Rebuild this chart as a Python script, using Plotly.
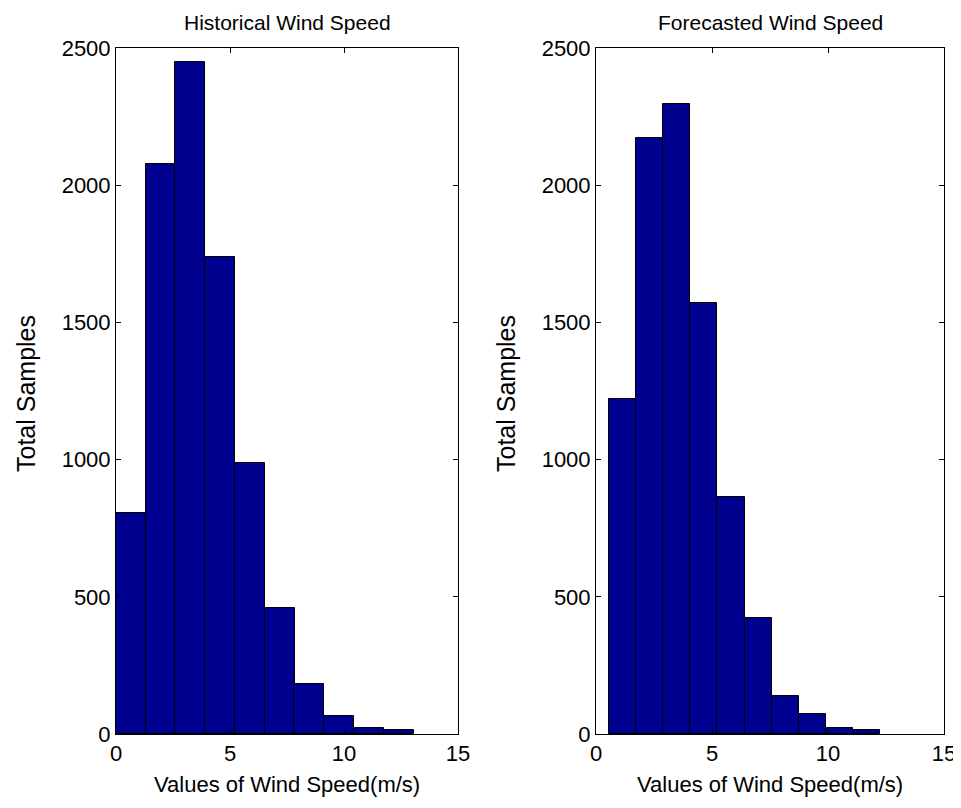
import plotly.graph_objects as go

# ---- data ----
hist_centers = [0.65, 1.96, 3.26, 4.57, 5.87, 7.18, 8.48, 9.79, 11.09, 12.40]
hist_counts = [805, 2077, 2450, 1740, 988, 460, 183, 67, 22, 14]
hist_bin_width = 1.305

fore_centers = [1.14, 2.31, 3.48, 4.65, 5.82, 6.99, 8.15, 9.32, 10.49, 11.66]
fore_counts = [1220, 2172, 2297, 1570, 862, 424, 140, 73, 22, 14]
fore_bin_width = 1.168

x_ticks = [0, 5, 10, 15]
y_ticks = [0, 500, 1000, 1500, 2000, 2500]
titles = ["Historical Wind Speed", "Forecasted Wind Speed"]
x_title = "Values of Wind Speed(m/s)"
y_title = "Total Samples"

# the page places the figure 8px in from the top-left corner
OFF = 8
W, H = 961 - OFF, 808 - OFF
FONT = "Liberation Sans, Arial, Helvetica"
BAR = "rgb(0,0,143)"
TXT = 22

fig = go.Figure()
fig.add_trace(go.Bar(x=hist_centers, y=hist_counts, width=hist_bin_width,
                     marker=dict(color=BAR, line=dict(color="black", width=1)),
                     xaxis="x", yaxis="y", showlegend=False))
fig.add_trace(go.Bar(x=fore_centers, y=fore_counts, width=fore_bin_width,
                     marker=dict(color=BAR, line=dict(color="black", width=1)),
                     xaxis="x2", yaxis="y2", showlegend=False))

# pixel layout (page pixels, converted to figure pixels)
L1, R1 = 116 - OFF, 458 - OFF
L2, R2 = 596 - OFF, 944 - OFF
TOP, BOT = 48 - OFF, 734 - OFF
ydom = [(H - BOT) / H, (H - TOP) / H]

axis_common = dict(showline=True, linecolor="black", linewidth=1, mirror="ticks",
                   ticks="inside", ticklen=5, tickcolor="black", showgrid=False,
                   zeroline=False, automargin=False,
                   tickfont=dict(family=FONT, size=TXT, color="black"))

fig.update_layout(
    width=W, height=H, margin=dict(l=0, r=0, t=0, b=0, autoexpand=False),
    paper_bgcolor="white", plot_bgcolor="white", bargap=0,
    font=dict(family=FONT, color="black"),
    xaxis=dict(domain=[L1 / W, R1 / W], range=[0, 15], tickvals=x_ticks, anchor="y", **axis_common),
    yaxis=dict(domain=ydom, range=[0, 2500], tickvals=y_ticks, anchor="x", **axis_common),
    xaxis2=dict(domain=[L2 / W, R2 / W], range=[0, 15], tickvals=x_ticks, anchor="y2", **axis_common),
    yaxis2=dict(domain=ydom, range=[0, 2500], tickvals=y_ticks, anchor="x2", **axis_common),
)

ann = []
for cx, t, ytx in [((L1 + R1) / 2, titles[0], 26 - OFF), ((L2 + R2) / 2, titles[1], 506 - OFF)]:
    ann.append(dict(x=cx / W, y=(H - 1) / H, xref="paper", yref="paper", text=t,
                    showarrow=False, font=dict(family=FONT, size=TXT - 1, color="black"),
                    xanchor="center", yanchor="top"))
    ann.append(dict(x=cx / W, y=(H - (784 - OFF)) / H, xref="paper", yref="paper", text=x_title,
                    showarrow=False, font=dict(family=FONT, size=TXT, color="black"),
                    xanchor="center", yanchor="middle"))
    ann.append(dict(x=ytx / W, y=(H - (394 - OFF)) / H, xref="paper", yref="paper", text=y_title,
                    textangle=-90, showarrow=False, font=dict(family=FONT, size=TXT + 3, color="black"),
                    xanchor="center", yanchor="middle"))
fig.update_layout(annotations=ann)

fig.write_html("out.html")
